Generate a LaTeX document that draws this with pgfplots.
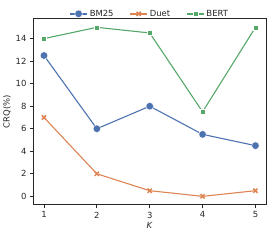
\documentclass[border=0pt]{standalone}
\usepackage{pgfplots}
\pgfplotsset{compat=1.18}
\usepackage{fontspec}
\setmainfont{DejaVu Sans}
\definecolor{cblue}{HTML}{4C72B0}
\definecolor{corange}{HTML}{DD8452}
\definecolor{cgreen}{HTML}{55A868}
\definecolor{axgray}{HTML}{262626}
\begin{document}
\begin{tikzpicture}
\begin{axis}[
  scale only axis, width=234pt, height=187pt,
  xmin=0.8, xmax=5.2, ymin=-0.75, ymax=15.75,
  xtick={1,2,3,4,5}, ytick={0,2,4,6,8,10,12,14},
  tick align=outside, tick pos=left,
  major tick length=3.5pt,
  every tick/.style={axgray, line width=0.8pt},
  axis line style={axgray, line width=1pt},
  tick label style={font=\fontsize{8.5}{9}\selectfont, text=axgray},
  /pgf/number format/assume math mode=true,
  xlabel={\textit{K}}, ylabel={CRQ(\%)},
  label style={font=\fontsize{8.5}{9}\selectfont, text=axgray},
  xlabel style={yshift=3pt},
  ylabel style={yshift=-2pt},
  legend columns=3,
  legend style={at={(0.5,1)}, anchor=south, yshift=-2pt, draw=none, fill=none,
    font=\fontsize{8.5}{9}\selectfont, text=axgray, inner sep=1pt,
    /tikz/every even column/.append style={column sep=14pt}},
  legend image post style={line width=1.4pt},
]
\addplot[cblue, line width=1.1pt, mark=*, mark size=3.8pt, mark options={fill=cblue, draw=white, line width=0.4pt}]
  coordinates {(1,12.5) (2,6) (3,8) (4,5.5) (5,4.5)};
\addlegendentry{BM25}
\addplot[corange, line width=1.1pt, mark=x, mark size=3pt, mark options={line width=1.5pt}]
  coordinates {(1,7) (2,2) (3,0.5) (4,0) (5,0.5)};
\addlegendentry{Duet}
\addplot[cgreen, line width=1.1pt, mark=square*, mark size=2.5pt, mark options={fill=cgreen, draw=white, line width=0.3pt}]
  coordinates {(1,14) (2,15) (3,14.5) (4,7.5) (5,15)};
\addlegendentry{BERT}
\end{axis}
\path (current axis.south west) ++(-32pt,-35pt) coordinate (bl);
\path (current axis.north east) ++(6pt,19pt) coordinate (tr);
\useasboundingbox (bl) rectangle (tr);
\end{tikzpicture}
\end{document}
